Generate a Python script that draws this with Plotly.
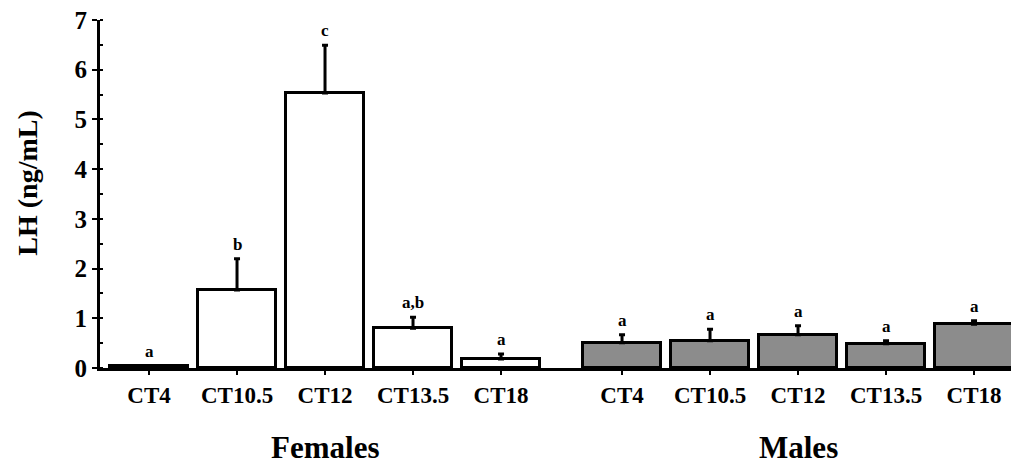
import plotly.graph_objects as go

timepoints = ["CT4", "CT10.5", "CT12", "CT13.5", "CT18"]
female_lh = [0.05, 1.57, 5.53, 0.80, 0.18]
female_sem = [0.0, 0.63, 0.96, 0.22, 0.10]
female_sig = ["a", "b", "c", "a,b", "a"]
male_lh = [0.51, 0.55, 0.67, 0.49, 0.88]
male_sem = [0.16, 0.23, 0.18, 0.06, 0.07]
male_sig = ["a", "a", "a", "a", "a"]
groups = ["Females", "Males"]
y_ticks = [0, 1, 2, 3, 4, 5, 6, 7]

female_x = [0, 1, 2, 3, 4]
male_x = [5.375, 6.375, 7.375, 8.375, 9.375]

FONT = "Liberation Serif"


def bold(size):
    return dict(family=FONT, size=size, color="black", weight="bold")


fig = go.Figure()
for xs, ys, es, col in [(female_x, female_lh, female_sem, "white"),
                        (male_x, male_lh, male_sem, "#8c8c8c")]:
    fig.add_trace(go.Bar(
        x=xs, y=ys, width=0.88,
        marker=dict(color=col, line=dict(color="black", width=3)),
        error_y=dict(type="data", array=es, arrayminus=[0] * len(es),
                     symmetric=False, color="black", thickness=3, width=3),
        showlegend=False,
    ))

for xs, ys, es, sig in [(female_x, female_lh, female_sem, female_sig),
                        (male_x, male_lh, male_sem, male_sig)]:
    for x, y, e, s in zip(xs, ys, es, sig):
        fig.add_annotation(x=x, y=y + e, text=s, showarrow=False,
                           yanchor="bottom", yshift=3, font=bold(17))

for gx, name in [(sum(female_x) / 5, groups[0]), (sum(male_x) / 5, groups[1])]:
    fig.add_annotation(x=gx, y=-0.228, xref="x", yref="paper",
                       text=name, showarrow=False, yanchor="middle",
                       font=bold(31))
fig.add_annotation(x=-0.080, y=0.53, xref="paper", yref="paper",
                   text="LH (ng/mL)", showarrow=False, textangle=-90,
                   xanchor="center", yanchor="middle", font=bold(28))

fig.update_layout(
    width=1011, height=467,
    margin=dict(l=100, r=0, t=20, b=99),
    plot_bgcolor="white", paper_bgcolor="white",
    bargap=0,
    xaxis=dict(range=[-0.557, 9.795], tickvals=female_x + male_x,
               ticktext=timepoints * 2,
               showline=True, linecolor="black", linewidth=3,
               ticks="outside", ticklen=4, tickwidth=2, tickcolor="black",
               showgrid=False, zeroline=False,
               tickfont=bold(23)),
    yaxis=dict(range=[0, 7], tickvals=y_ticks,
               ticktext=[str(t) for t in y_ticks],
               showline=True, linecolor="black", linewidth=3,
               ticks="outside", ticklen=5, tickwidth=2, tickcolor="black",
               minor=dict(dtick=0.5, ticks="inside", ticklen=3, tickwidth=2,
                          tickcolor="black"),
               showgrid=False, zeroline=False,
               tickfont=bold(25)),
)

fig.write_html("out.html")
